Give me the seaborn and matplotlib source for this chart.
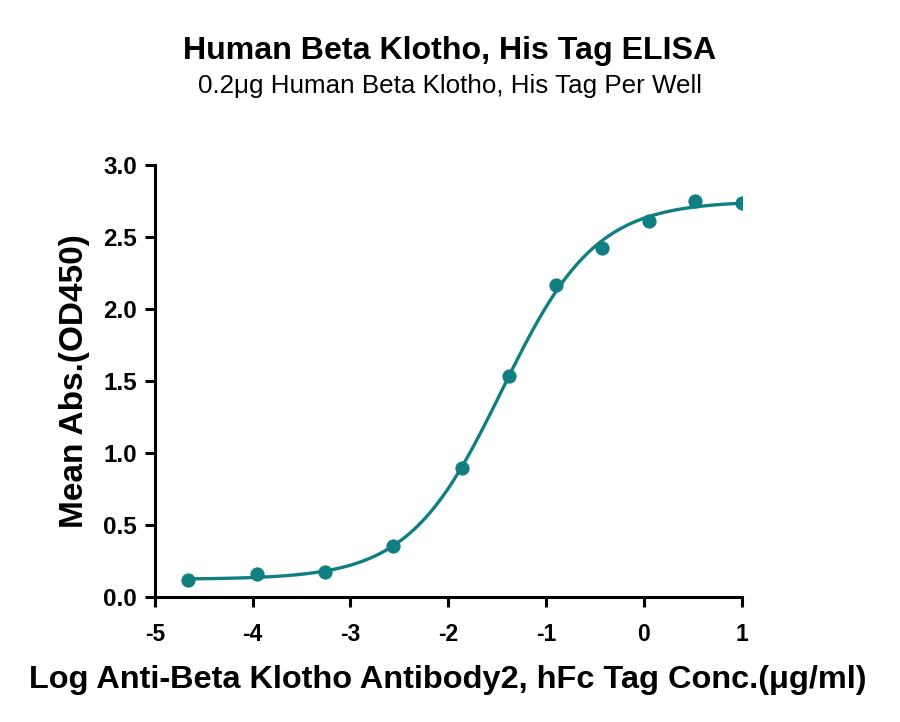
import numpy as np
import pandas as pd
import matplotlib
matplotlib.use("Agg")
import matplotlib.pyplot as plt
import seaborn as sns
from matplotlib import font_manager

# %% Data
log_conc = [-4.66, -3.96, -3.26, -2.56, -1.86, -1.38, -0.90, -0.43, 0.05, 0.52, 1.00]
mean_abs = [0.116, 0.158, 0.174, 0.352, 0.899, 1.536, 2.166, 2.428, 2.610, 2.752, 2.738]
x_ticks = [-5, -4, -3, -2, -1, 0, 1]
y_ticks = [0.0, 0.5, 1.0, 1.5, 2.0, 2.5, 3.0]

teal = "#117f82"

df = pd.DataFrame({"x": log_conc, "y": mean_abs})

# %% 4PL fit (grid over EC50 / hill, bottom/top solved linearly)
xs = np.array(log_conc)
ys = np.array(mean_abs)
best = None
for ec in np.linspace(-3, 0, 301):
    for hill in np.linspace(0.5, 2.5, 201):
        f = 1.0 / (1.0 + 10 ** ((ec - xs) * hill))
        A = np.column_stack([1 - f, f])
        coef, *_ = np.linalg.lstsq(A, ys, rcond=None)
        err = np.sum((A @ coef - ys) ** 2)
        if best is None or err < best[0]:
            best = (err, ec, hill, coef)
_, ec50, hill, (bottom, top) = best
x_fit = np.linspace(min(log_conc), max(log_conc), 300)
y_fit = bottom + (top - bottom) / (1.0 + 10 ** ((ec50 - x_fit) * hill))
fit_df = pd.DataFrame({"x": x_fit, "y": y_fit})

# %% Style
sns.set_style("ticks")
names = {f.name for f in font_manager.fontManager.ttflist}
narrow = "Liberation Sans Narrow" if "Liberation Sans Narrow" in names else "Liberation Sans"
plt.rcParams["font.family"] = ["Liberation Sans", "DejaVu Sans"]
plt.rcParams["text.color"] = "black"
plt.rcParams["axes.labelcolor"] = "black"
plt.rcParams["xtick.color"] = "black"
plt.rcParams["ytick.color"] = "black"
plt.rcParams["axes.edgecolor"] = "black"

fig = plt.figure(figsize=(9, 7.22), dpi=100)
ax = fig.add_axes([0.172, 0.173, 0.652, 0.598])

sns.lineplot(data=fit_df, x="x", y="y", ax=ax, color=teal, linewidth=2.4)
sns.scatterplot(data=df, x="x", y="y", ax=ax, color=teal, s=90, edgecolor=teal, zorder=3)

ax.set_xlim(-5, 1)
ax.set_ylim(0, 3)
ax.set_xticks(x_ticks)
ax.set_yticks(y_ticks)
ax.set_yticklabels([f"{v:.1f}" for v in y_ticks], fontsize=17.5, fontweight="bold")
ax.set_xticklabels([str(v) for v in x_ticks], fontsize=16.5, fontweight="bold", family=narrow)
ax.tick_params(width=2.2, length=7, color="black", pad=6)
ax.tick_params(axis="x", pad=12)
for side in ["left", "bottom"]:
    ax.spines[side].set_linewidth(2.2)
sns.despine(ax=ax)

ax.set_xlabel("Log Anti-Beta Klotho Antibody2, hFc Tag Conc.(μg/ml)",
              fontsize=23.4, fontweight="bold", family=narrow, labelpad=13)
ax.set_ylabel("Mean Abs.(OD450)", fontsize=24, fontweight="bold", labelpad=9)

fig.text(0.5, 0.918, "Human Beta Klotho, His Tag ELISA", ha="center", va="baseline",
         fontsize=23.1, fontweight="bold")
fig.text(0.5, 0.871, "0.2μg Human Beta Klotho, His Tag Per Well", ha="center", va="baseline",
         fontsize=18.7)

fig.savefig("out.png", dpi=100, facecolor="white")
